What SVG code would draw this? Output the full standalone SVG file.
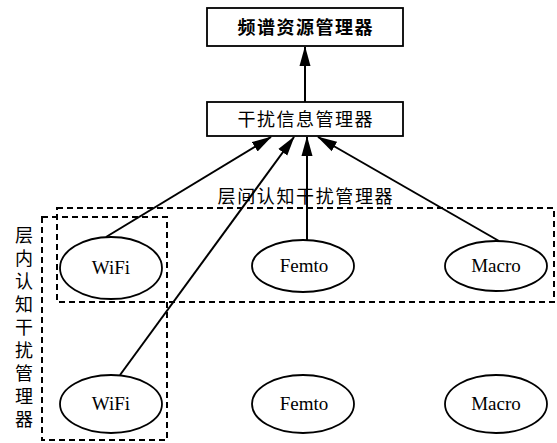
<svg xmlns="http://www.w3.org/2000/svg" width="557" height="443" viewBox="0 0 557 443">
<style>
.box{fill:#fff;stroke:#000;stroke-width:1.8}
.dash{fill:none;stroke:#000;stroke-width:2;stroke-dasharray:6 4}
.ell{fill:#fff;stroke:#000;stroke-width:1.8}
.cn{font-family:"Noto Sans CJK SC",sans-serif;font-size:18px;fill:#000}
.en{font-family:"Liberation Serif",serif;font-size:19px;fill:#000;text-anchor:middle}
.edge{stroke:#000;stroke-width:2;fill:none;marker-end:url(#arr)}
</style>
<defs>
<marker id="arr" markerUnits="userSpaceOnUse" markerWidth="20" markerHeight="12" viewBox="0 0 20 12" refX="19" refY="6" orient="auto">
<path d="M0,0.5 L20,6 L0,11.5 z" fill="#000"/>
</marker>
</defs>
<rect class="dash" x="57" y="208" width="497" height="94"/>
<rect class="dash" x="42" y="217" width="125" height="223"/>
<g id="connectors">
<line class="edge" x1="305" y1="103" x2="305" y2="47"/>
<line class="edge" x1="106" y1="237" x2="271" y2="137"/>
<line class="edge" x1="120" y1="375" x2="294" y2="137"/>
<line class="edge" x1="307" y1="240" x2="307" y2="137"/>
<line class="edge" x1="499" y1="241" x2="318" y2="137"/>
</g>
<g id="spectrum-manager">
<rect class="box" x="207" y="8" width="196" height="38"/>
<text class="cn" x="305" y="34" text-anchor="middle" font-weight="bold" textLength="135">频谱资源管理器</text>
</g>
<g id="interference-info-manager">
<rect class="box" x="207" y="102" width="196" height="34"/>
<text class="cn" x="305" y="126" text-anchor="middle" textLength="135">干扰信息管理器</text>
</g>
<g id="inter-layer-label">
<text class="cn" x="305" y="203" text-anchor="middle" textLength="175">层间认知干扰管理器</text>
</g>
<g id="intra-layer-label">
<text class="cn" x="24" y="226" style="writing-mode:vertical-rl;letter-spacing:5px">层内认知干扰管理器</text>
</g>
<g id="wifi-top">
<ellipse class="ell" cx="111" cy="268" rx="51" ry="31"/>
<text class="en" x="111" y="274">WiFi</text>
</g>
<g id="femto-top">
<ellipse class="ell" cx="303" cy="266" rx="51" ry="26"/>
<text class="en" x="304" y="272">Femto</text>
</g>
<g id="macro-top">
<ellipse class="ell" cx="496" cy="266" rx="51" ry="25"/>
<text class="en" x="496" y="272">Macro</text>
</g>
<g id="wifi-bottom">
<ellipse class="ell" cx="111" cy="404" rx="51" ry="29"/>
<text class="en" x="111" y="410">WiFi</text>
</g>
<g id="femto-bottom">
<ellipse class="ell" cx="303" cy="404" rx="51" ry="29"/>
<text class="en" x="304" y="410">Femto</text>
</g>
<g id="macro-bottom">
<ellipse class="ell" cx="496" cy="404" rx="51" ry="29"/>
<text class="en" x="496" y="410">Macro</text>
</g>
</svg>
